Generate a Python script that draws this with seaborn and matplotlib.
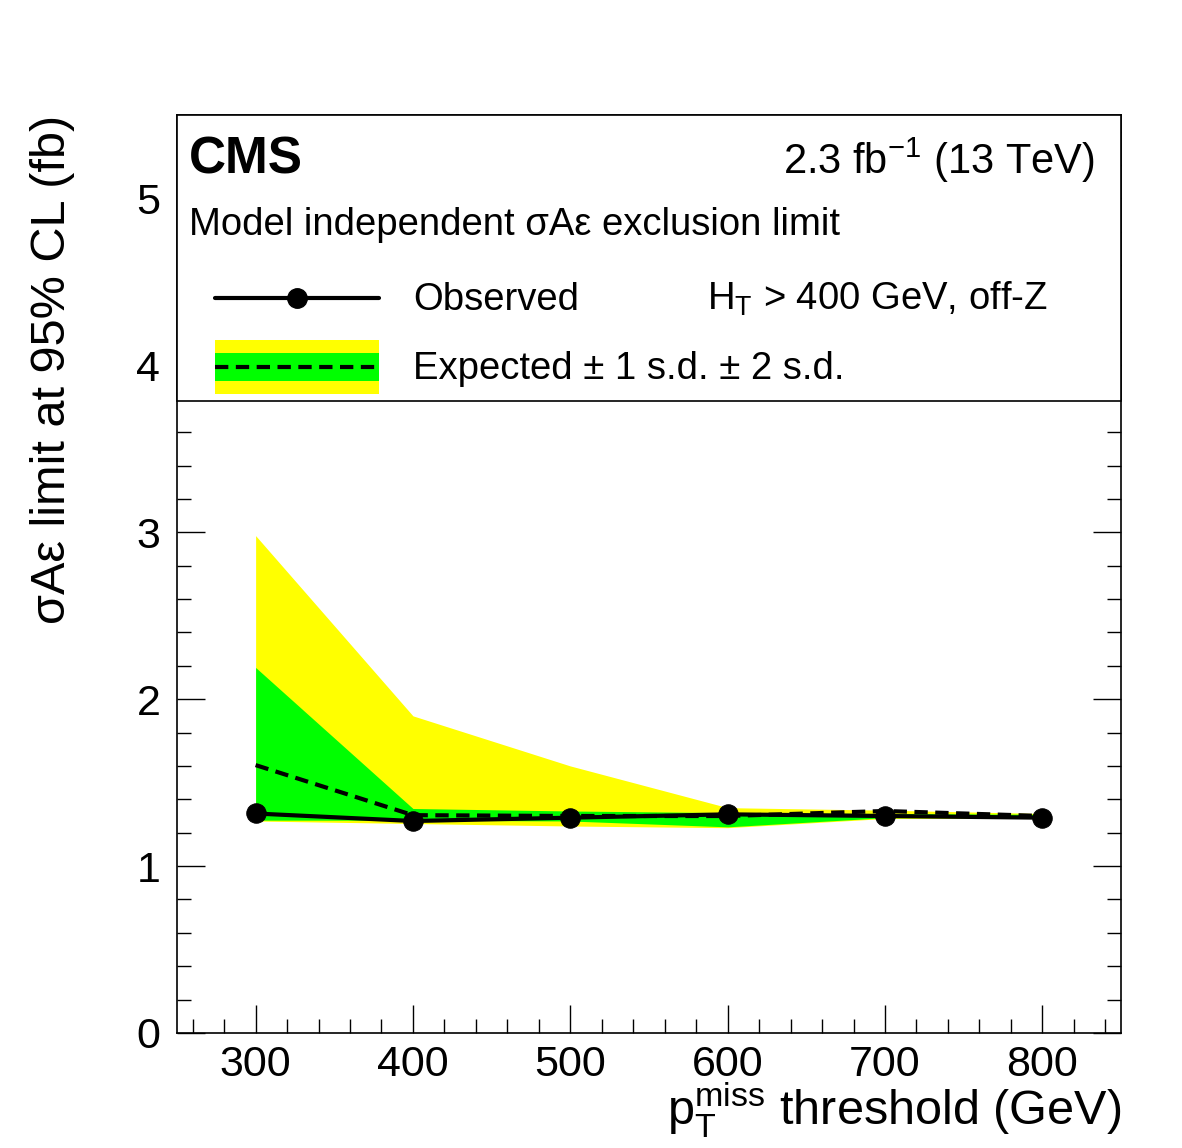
import numpy as np
import pandas as pd
import matplotlib
matplotlib.use("Agg")
import matplotlib.pyplot as plt
from matplotlib.patches import Rectangle, Patch
from matplotlib.lines import Line2D
from matplotlib.legend_handler import HandlerPatch, HandlerTuple
from matplotlib.ticker import MultipleLocator
import seaborn as sns

# values
thresholds = [300, 400, 500, 600, 700, 800]
observed = [1.315, 1.27, 1.29, 1.31, 1.30, 1.29]
expected = [1.605, 1.305, 1.30, 1.30, 1.33, 1.30]
green_lo = [1.275, 1.275, 1.27, 1.235, 1.29, 1.29]
green_hi = [2.19, 1.345, 1.33, 1.32, 1.315, 1.31]
yellow_lo = [1.27, 1.255, 1.24, 1.23, 1.285, 1.285]
yellow_hi = [2.98, 1.90, 1.60, 1.35, 1.335, 1.315]

df = pd.DataFrame({"thr": thresholds, "obs": observed, "exp": expected})

sns.set_style("ticks")
plt.rcParams["font.family"] = ["Liberation Sans", "DejaVu Sans"]
plt.rcParams["mathtext.fontset"] = "custom"
plt.rcParams["mathtext.rm"] = "Liberation Sans"
plt.rcParams["mathtext.it"] = "Liberation Sans:italic"
plt.rcParams["mathtext.bf"] = "Liberation Sans:bold"
for k in ["text.color", "axes.labelcolor", "xtick.color", "ytick.color",
          "axes.edgecolor"]:
    plt.rcParams[k] = "black"

fig = plt.figure(figsize=(11.82, 11.48), dpi=100)
ax = fig.add_axes([0.1497, 0.1002, 0.7987, 0.7996])

yellow = "#ffff00"
green = "#00ff00"
dash = [3.2, 1.8]

ax.fill_between(thresholds, yellow_lo, yellow_hi, color=yellow, lw=0, zorder=1)
ax.fill_between(thresholds, green_lo, green_hi, color=green, lw=0, zorder=1.1)
sns.lineplot(data=df, x="thr", y="exp", ax=ax, color="black", lw=3,
             dashes=False, zorder=2)
ax.lines[-1].set_dashes(dash)
sns.lineplot(data=df, x="thr", y="obs", ax=ax, color="black", lw=3,
             marker="o", markersize=14, markeredgecolor="black", zorder=3)

ax.set_xlim(250, 850)
ax.set_ylim(0, 5.5)
ax.xaxis.set_major_locator(MultipleLocator(100))
ax.xaxis.set_minor_locator(MultipleLocator(20))
ax.yaxis.set_major_locator(MultipleLocator(1))
ax.yaxis.set_minor_locator(MultipleLocator(0.2))
ax.tick_params(which="both", direction="in", top=True, right=True,
               labelsize=31, width=1, color="black")
ax.tick_params(axis="x", pad=9)
ax.tick_params(axis="y", pad=12)
ax.tick_params(which="major", length=20)
ax.tick_params(which="minor", length=10)
for s in ax.spines.values():
    s.set_linewidth(1.2)
    s.set_color("black")

ax.set_xlabel(r"p$_{\rm T}^{\rm miss}$ threshold (GeV)", fontsize=35,
              loc="right", labelpad=-4)
ax.set_ylabel("σAε limit at 95% CL (fb)", fontsize=35, loc="top", labelpad=44)

# white legend box covering the top of the frame
box_bottom = (1033 - 401) / 918
ax.add_patch(Rectangle((0, box_bottom), 1, 1 - box_bottom, transform=ax.transAxes,
                       facecolor="white", edgecolor="black", lw=1.2, zorder=4,
                       clip_on=False))

ax.text(0.013, 0.978, "CMS", transform=ax.transAxes, fontsize=37,
        fontweight="bold", ha="left", va="top", zorder=6)
ax.text(0.972, 0.978, r"2.3 fb$^{-1}$ (13 TeV)", transform=ax.transAxes,
        fontsize=30, ha="right", va="top", zorder=6)
ax.text(0.013, 0.880, "Model independent σAε exclusion limit",
        transform=ax.transAxes, fontsize=27.5, ha="left", va="center", zorder=6)
ax.text(0.561, 0.800, r"H$_{\rm T}$ > 400 GeV, off-Z", transform=ax.transAxes,
        fontsize=27.5, ha="left", va="center", zorder=6)


# legend keys centred on the handle box
def yellow_band(legend, orig_handle, xdescent, ydescent, width, height, fontsize):
    return Rectangle((-xdescent, -ydescent), width, height)


def green_band(legend, orig_handle, xdescent, ydescent, width, height, fontsize):
    h = height * 0.51
    return Rectangle((-xdescent, -ydescent + (height - h) / 2), width, h)


def mid_line(legend, orig_handle, xdescent, ydescent, width, height, fontsize):
    yc = -ydescent + height / 2
    x0 = -xdescent
    return Line2D([x0, x0 + width / 2, x0 + width], [yc, yc, yc], markevery=[1])


obs_handle = Line2D([], [], color="black", lw=3, marker="o", markersize=14)
exp_line = Line2D([], [], color="black", lw=3, dashes=dash)
yel_patch = Patch(facecolor=yellow, edgecolor="none")
grn_patch = Patch(facecolor=green, edgecolor="none")

leg = ax.legend([obs_handle, (yel_patch, grn_patch, exp_line)],
                ["Observed", "Expected ± 1 s.d. ± 2 s.d."],
                handler_map={yel_patch: HandlerPatch(patch_func=yellow_band),
                             grn_patch: HandlerPatch(patch_func=green_band),
                             exp_line: HandlerPatch(patch_func=mid_line),
                             obs_handle: HandlerPatch(patch_func=mid_line),
                             tuple: HandlerTuple(ndivide=1, pad=0)},
                loc="upper left", bbox_to_anchor=(0.024, 0.847),
                fontsize=27.5, frameon=False, handlelength=4.3,
                handleheight=1.8, handletextpad=0.9, labelspacing=0.4,
                borderaxespad=0)
leg.set_zorder(6)

fig.savefig("out.png", dpi=100, facecolor="white")
